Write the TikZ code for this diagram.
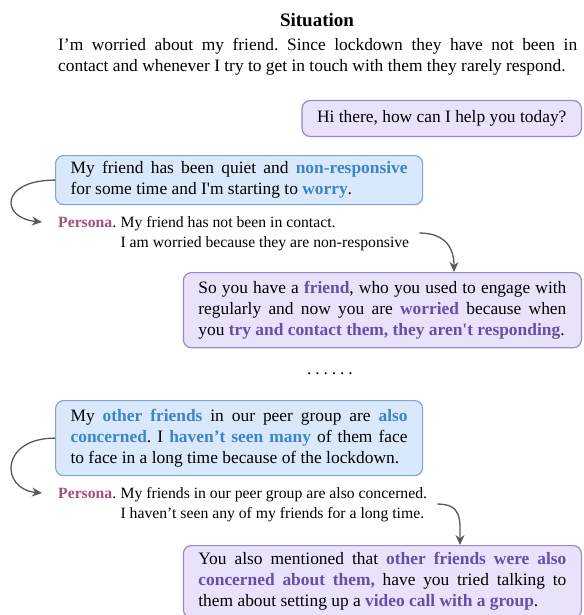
\documentclass[tikz,border=0pt]{standalone}
\usepackage{fontspec}
\setmainfont{Liberation Serif}
\usetikzlibrary{arrows.meta}
\definecolor{kwblue}{HTML}{3D85C6}
\definecolor{kwpurple}{HTML}{674EA7}
\definecolor{personacol}{HTML}{A64D79}
\definecolor{bluefill}{HTML}{DAE8FC}
\definecolor{blueline}{HTML}{7EA6D8}
\definecolor{purplefill}{HTML}{E9E2FA}
\definecolor{purpleline}{HTML}{9A88CF}
\definecolor{arrowcol}{HTML}{595959}
\newcommand{\kwb}[1]{\textcolor{kwblue}{\textbf{#1}}}
\newcommand{\kwp}[1]{\textcolor{kwpurple}{\textbf{#1}}}
\newcommand{\personalabel}{\textcolor{personacol}{\textbf{Persona}}.}
\frenchspacing

\begin{document}
\begin{tikzpicture}[x=1pt, y=-1pt,
	every node/.style={font=\fontsize{17.4}{21}\selectfont, inner sep=0pt},
	boxbase/.style={line width=1.2pt, rounded corners=8pt, inner xsep=15pt, inner ysep=8.5pt},
	userbox/.style={boxbase, draw=blueline, fill=bluefill, text width=337pt, align=justify},
	botbox/.style={boxbase, draw=purpleline, fill=purplefill},
	personatext/.style={font=\fontsize{15.7}{20}\selectfont},
	arr/.style={draw=arrowcol, line width=1.3pt, -{Stealth[length=10pt,width=9pt]}}]
	\useasboundingbox (0,0) rectangle (583,615);

	\node [font=\bfseries\fontsize{19}{22}\selectfont] (title) at (317,20) {Situation};
	\node [anchor=north west, text width=519pt, align=justify] (situation) at (58,38)
		{I’m worried about my friend. Since lockdown they have not been in\linebreak contact and whenever I try to get in touch with them they rarely respond.};

	\node [botbox, anchor=north east, inner ysep=10pt] (bot1) at (582,100) {Hi there, how can I help you today?};

	\node [userbox, anchor=north west, inner ysep=6pt] (user1) at (55,155)
		{My friend has been quiet and \kwb{non-responsive}\linebreak for some time and I\textquotesingle m starting to \kwb{worry}.};
	\node [personatext, anchor=west] (plabel1) at (58,222) {\personalabel};
	\node [personatext, anchor=base west] (ptext1) at ([xshift=4pt]plabel1.base east)
		{\begin{tabular}[t]{@{}l@{}}My friend has not been in contact.\\ I am worried because they are non-responsive\end{tabular}};
	\node [botbox, anchor=north east, text width=368pt, align=justify] (bot2) at (582,272)
		{So you have a \kwp{friend}, who you used to engage with\linebreak regularly and now you are \kwp{worried} because when\linebreak you \kwp{try and contact them, they aren\textquotesingle t responding}.};

	\node (gap) at (330,374) {.\kern3.9pt.\kern3.9pt.\kern3.9pt.\kern3.9pt.\kern3.9pt.};

	\node [userbox, anchor=north west] (user2) at (55,400)
		{My \kwb{other friends} in our peer group are \kwb{also}\linebreak \kwb{concerned}. I \kwb{haven’t seen many} of them face\linebreak to face in a long time because of the lockdown.};
	\node [personatext, anchor=west] (plabel2) at (58,493) {\personalabel};
	\node [personatext, anchor=base west] (ptext2) at ([xshift=4pt]plabel2.base east)
		{\begin{tabular}[t]{@{}l@{}}My friends in our peer group are also concerned.\\ I haven’t seen any of my friends for a long time.\end{tabular}};
	\node [botbox, anchor=north east, text width=368pt, align=justify, inner ysep=7pt] (bot3) at (582,545)
		{You also mentioned that \kwp{other friends were also}\linebreak \kwp{concerned about them,} have you tried talking to\linebreak them about setting up a \kwp{video call with a group}.};

	\draw [arr] (user1.west) .. controls +(-55,0) and +(-42,-4) .. ([xshift=-16pt]plabel1.west);
	\draw [arr] ([xshift=10pt]ptext1.east) .. controls +(25,0) and +(0,-25) .. ([xshift=-128pt]bot2.north east);
	\draw [arr] (user2.west) .. controls +(-55,0) and +(-42,-4) .. ([xshift=-16pt]plabel2.west);
	\draw [arr] ([xshift=10pt]ptext2.east) .. controls +(25,0) and +(0,-25) .. ([xshift=-122pt]bot3.north east);
\end{tikzpicture}
\end{document}
